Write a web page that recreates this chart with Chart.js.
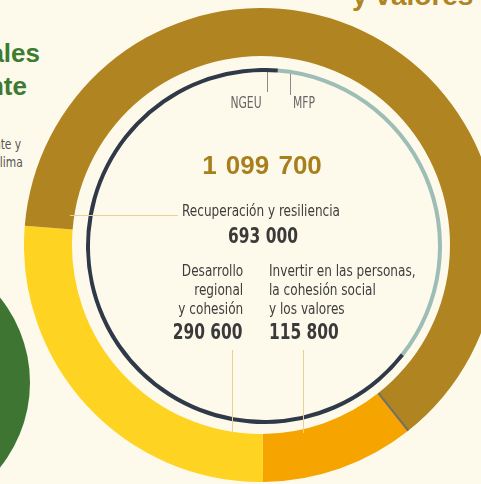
<!DOCTYPE html>
<html>
<head>
<meta charset="utf-8">
<script src="https://cdn.jsdelivr.net/npm/chart.js@4.4.0/dist/chart.umd.min.js"></script>
<style>
  html, body { margin: 0; padding: 0; }
  body { width: 481px; height: 484px; overflow: hidden; position: relative; background: #fdfaeb; }
  canvas { position: absolute; }
  #outer { left: 24px; top: 8px; }
  #inner { left: 86px; top: 68px; }
  .t { position: absolute; white-space: nowrap; font-family: "Liberation Sans Narrow", "DejaVu Sans Condensed", sans-serif; color: #3d3d3d; }
  .lbl { font-size: 16px; line-height: 19px; transform: scaleX(.84); }
  .num { font-size: 22px; line-height: 24px; font-weight: bold; color: #3a3a3a; transform: scaleX(.78); }
  .L { transform-origin: left center; }
  .R { transform-origin: right center; text-align: right; }
  .C { transform-origin: center center; text-align: center; }
  .line { position: absolute; background: #ecd092; }
  .tick { position: absolute; background: #8a8a8a; width: 1px; }
  .circle { position: absolute; left: -241px; top: 247px; width: 271px; height: 271px; border-radius: 50%; background: #3f7533; }
</style>
</head>
<body>
<div class="circle"></div>
<div class="t" style="right:441px;top:38px;font:bold 26px 'Liberation Sans',sans-serif;color:#3f7a31;">Recursos naturales</div>
<div class="t" style="right:454px;top:71px;font:bold 26px 'Liberation Sans',sans-serif;color:#3f7a31;">y medio ambiente</div>
<div class="t R" style="right:460px;top:136px;font-size:14px;color:#555;transform:scaleX(.85);">Medio ambiente y</div>
<div class="t R" style="right:458px;top:154px;font-size:14px;color:#555;transform:scaleX(.85);">acción por el clima</div>
<div class="t" style="left:352px;top:-20px;font:bold 28px 'Liberation Sans',sans-serif;color:#b08421;">y valores</div>

<canvas id="outer" width="474" height="474"></canvas>
<canvas id="inner" width="356" height="356"></canvas>

<div class="line" style="left:70px;top:215px;width:108px;height:1px;"></div>
<div class="line" style="left:232px;top:350px;width:1px;height:83px;"></div>
<div class="line" style="left:303px;top:350px;width:1px;height:83px;"></div>
<div class="tick" style="left:267px;top:72px;height:20px;"></div>
<div class="tick" style="left:290px;top:74px;height:21px;"></div>

<div class="t C" id="fNgeu" style="left:216px;width:60px;top:94px;font-size:15px;color:#666;transform:scaleX(.8);"></div>
<div class="t C" id="fMfp" style="left:274px;width:60px;top:94px;font-size:15px;color:#666;transform:scaleX(.8);"></div>
<div class="t C" id="total" style="left:162px;width:200px;top:150px;font:bold 26px 'Liberation Sans',sans-serif;word-spacing:2px;color:#a97f1d;"></div>
<div class="t lbl L" id="l2" style="left:182px;top:201px;"></div>
<div class="t num C" id="n2" style="left:163px;width:200px;top:224px;"></div>
<div class="t lbl R" id="l1" style="right:238px;top:261px;"></div>
<div class="t num R" id="n1" style="right:238px;top:320px;"></div>
<div class="t lbl L" id="l0" style="left:269px;top:261px;"></div>
<div class="t num L" id="n0" style="left:269px;top:320px;"></div>

<script>
// partidas (outer ring), clockwise from the orange slice
const partidas = ["Invertir en las personas,\nla cohesión social\ny los valores", "Desarrollo\nregional\ny cohesión", "Recuperación y resiliencia"];
const importes = [115800, 290600, 693000];
const coloresPartidas = ["#f6a400", "#fed321", "#b08421"];

// fuentes (inner ring): MFP + NGEU = total of the heading
const fuentes = ["MFP", "NGEU"];
const importesFuente = [377800, 721900];
const coloresFuente = ["#9dbdb6", "#2f3947"];

const fmt = n => n.toString().replace(/\B(?=(\d{3})+(?!\d))/g, " ");
const total = importesFuente.reduce((a, b) => a + b, 0);

document.getElementById("total").textContent = fmt(total);
for (let i = 0; i < partidas.length; i++) {
  document.getElementById("l" + i).innerHTML = partidas[i].split("\n").join("<br>");
  document.getElementById("n" + i).textContent = fmt(importes[i]);
}
document.getElementById("fMfp").textContent = fuentes[0];
document.getElementById("fNgeu").textContent = fuentes[1];

// thin grey rule between the orange and the brown slices
const separador = {
  id: "separador",
  afterDatasetsDraw(chart) {
    const arc = chart.getDatasetMeta(0).data[0];
    const a = arc.startAngle, ctx = chart.ctx;
    ctx.save();
    ctx.strokeStyle = "#6d706c";
    ctx.lineWidth = 2;
    ctx.beginPath();
    ctx.moveTo(arc.x + Math.cos(a) * arc.innerRadius, arc.y + Math.sin(a) * arc.innerRadius);
    ctx.lineTo(arc.x + Math.cos(a) * arc.outerRadius, arc.y + Math.sin(a) * arc.outerRadius);
    ctx.stroke();
    ctx.restore();
  }
};

const base = {
  responsive: false,
  animation: false,
  events: [],
  plugins: { legend: { display: false }, tooltip: { enabled: false } }
};

new Chart(document.getElementById("outer"), {
  type: "doughnut",
  data: {
    labels: partidas,
    datasets: [{ data: importes, backgroundColor: coloresPartidas, borderWidth: 0 }]
  },
  options: Object.assign({}, base, { cutout: 189, rotation: 141.6 }),
  plugins: [separador]
});

new Chart(document.getElementById("inner"), {
  type: "doughnut",
  data: {
    labels: fuentes,
    datasets: [{ data: importesFuente, backgroundColor: coloresFuente, borderWidth: 0 }]
  },
  options: Object.assign({}, base, { cutout: 174, rotation: 4.5 })
});
</script>
</body>
</html>
